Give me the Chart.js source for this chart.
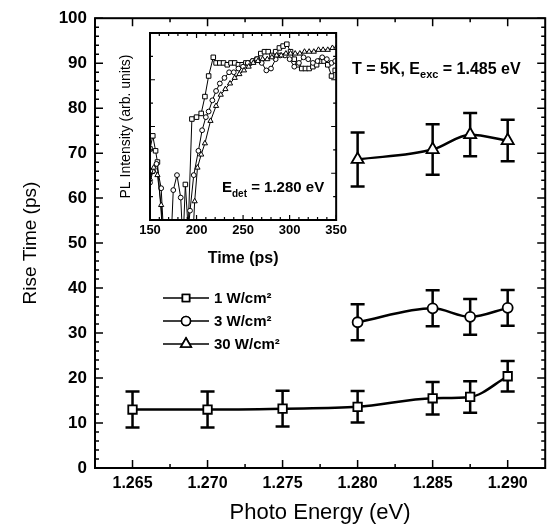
<!DOCTYPE html>
<html>
<head>
<meta charset="utf-8">
<script src="https://cdn.jsdelivr.net/npm/chart.js@4.4.0/dist/chart.umd.min.js"></script>
<style>
  html, body { margin: 0; padding: 0; background: #fff; }
  #wrap { position: relative; width: 554px; height: 529px; }
  #mainChart { position: absolute; left: 0; top: 0; }
  #insetChart { position: absolute; left: 108px; top: 25px; }
</style>
</head>
<body>
<div id="wrap">
  <canvas id="mainChart" width="554" height="529"></canvas>
  <canvas id="insetChart" width="242" height="250"></canvas>
</div>
<script>
// main plot: rise time vs photon energy
var energy1 = [1.265, 1.270, 1.275, 1.280, 1.285, 1.2875, 1.290];
var rise1   = [13.0, 13.0, 13.2, 13.6, 15.5, 15.8, 20.4];
var err1    = [4.0, 4.0, 4.0, 3.5, 3.6, 3.5, 3.4];

var energy3 = [1.280, 1.285, 1.2875, 1.290];
var rise3   = [32.4, 35.5, 33.6, 35.6];
var err3    = [4.0, 4.0, 4.0, 4.0];

var energy30 = [1.280, 1.285, 1.2875, 1.290];
var rise30   = [68.6, 70.8, 74.1, 72.8];
var err30    = [6.0, 5.6, 4.8, 4.6];

var xTickValues = [1.265, 1.270, 1.275, 1.280, 1.285, 1.290];
var legendLabels = ['1 W/cm²', '3 W/cm²', '30 W/cm²'];

// inset: PL transients (arb. units)
var insetTimeSq = [150, 153, 156, 158, 167, 184, 188, 191, 195, 200, 205, 209, 213, 218, 221, 225, 229, 233, 237, 241, 245, 249, 253, 257, 261, 265, 269, 273, 277, 281, 285, 289, 293, 297, 301, 305, 309, 313, 317, 321, 325, 329, 333, 337, 341, 345, 349];
var insetPLSq   = [38, 45, 37, 31, -30, -30, 19, -5, 54, 55, 57, 66, 77, 87, 84, 84, 84, 83, 84, 84, 83, 83, 84, 84, 85, 86, 89, 90, 90, 88, 90, 92, 93, 94, 90, 86, 83, 81, 81, 81, 82, 83, 85, 85, 83, 77, 80];

var insetTimeCi = [150, 153, 157, 162, 167, 171, 175, 179, 183, 187, 193, 197, 202, 206, 210, 213, 217, 221, 225, 230, 235, 240, 245, 250, 255, 260, 265, 270, 275, 280, 285, 290, 295, 300, 305, 310, 315, 320, 325, 330, 335, 340, 345, 349];
var insetPLCi   = [20, 26, 30, 17, -30, -30, 16, 24, 12, -30, 5, 24, 37, 48, 55, 58, 64, 69, 73, 76, 79, 79, 81, 82, 84, 85, 86, 84, 80, 81, 86, 88, 88, 86, 82, 84, 87, 86, 84, 85, 87, 86, 84, 85];

var insetTimeTr = [150, 154, 158, 162, 166, 194, 198, 201, 205, 209, 215, 221, 226, 231, 236, 241, 246, 251, 256, 261, 266, 271, 276, 281, 286, 291, 296, 301, 306, 311, 316, 321, 326, 331, 336, 341, 346, 350];
var insetPLTr   = [22, 28, 24, 8, -30, -30, 10, 28, 35, 41, 53, 61, 67, 70, 73, 76, 78, 80, 82, 84, 85, 86, 86, 87, 88, 88, 89, 89, 89, 89, 90, 90, 90, 91, 91, 91, 92, 92];

var FONT = "'Liberation Sans', Arial, sans-serif";
Chart.defaults.font.family = FONT;
Chart.defaults.color = '#000';

function toPoints(xs, ys) {
    return xs.map(function(x, i) { return { x: x, y: ys[i] }; });
}

// text with a subscript part
function drawParts(ctx, parts, x, y) {
    ctx.textBaseline = 'alphabetic';
    ctx.textAlign = 'left';
    parts.forEach(function(p) {
        ctx.font = p.font;
        ctx.fillText(p.text, x, y + (p.dy || 0));
        x += ctx.measureText(p.text).width;
    });
}

// frame around plot area with inward ticks on all four sides
function drawFrame(chart, cfg) {
    var ctx = chart.ctx, a = chart.chartArea;
    var xs = chart.scales.x, ys = chart.scales.y;
    ctx.save();
    ctx.strokeStyle = '#000';
    ctx.lineWidth = cfg.frameWidth;
    ctx.strokeRect(a.left, a.top, a.right - a.left, a.bottom - a.top);
    ctx.lineWidth = cfg.tickWidth;
    ctx.beginPath();
    for (var i = 0; i <= cfg.xCount; i++) {
        var px = xs.getPixelForValue(cfg.xStart + i * cfg.xStep);
        var len = (i % cfg.xMajorEvery === 0) ? cfg.majorLen : cfg.minorLen;
        ctx.moveTo(px, a.bottom); ctx.lineTo(px, a.bottom - len);
        ctx.moveTo(px, a.top); ctx.lineTo(px, a.top + len);
    }
    for (var j = 0; j <= cfg.yCount; j++) {
        var py = ys.getPixelForValue(cfg.yStart + j * cfg.yStep);
        var ylen = (j % cfg.yMajorEvery === 0) ? cfg.majorLen : cfg.minorLen;
        ctx.moveTo(a.left, py); ctx.lineTo(a.left + ylen, py);
        ctx.moveTo(a.right, py); ctx.lineTo(a.right - ylen, py);
    }
    ctx.stroke();
    ctx.restore();
}

var errorBarPlugin = {
    id: 'errorBars',
    beforeDatasetsDraw: function(chart) {
        var ctx = chart.ctx, ys = chart.scales.y;
        ctx.save();
        ctx.strokeStyle = '#000';
        ctx.lineWidth = 2.5;
        chart.data.datasets.forEach(function(ds, di) {
            if (!ds.errors) return;
            var meta = chart.getDatasetMeta(di);
            meta.data.forEach(function(pt, i) {
                var val = ds.data[i].y, e = ds.errors[i];
                var top = ys.getPixelForValue(val + e);
                var bot = ys.getPixelForValue(val - e);
                ctx.beginPath();
                ctx.moveTo(pt.x, top); ctx.lineTo(pt.x, bot);
                ctx.moveTo(pt.x - 7, top); ctx.lineTo(pt.x + 7, top);
                ctx.moveTo(pt.x - 7, bot); ctx.lineTo(pt.x + 7, bot);
                ctx.stroke();
            });
        });
        ctx.restore();
    }
};

var mainDecor = {
    id: 'mainDecor',
    afterDraw: function(chart) {
        drawFrame(chart, {
            frameWidth: 2, tickWidth: 1.5, majorLen: 8, minorLen: 4,
            xStart: 1.265, xStep: 0.0025, xCount: 10, xMajorEvery: 2,
            yStart: 0, yStep: 2, yCount: 50, yMajorEvery: 5
        });
        var ctx = chart.ctx;
        ctx.save();
        ctx.fillStyle = '#000';
        drawParts(ctx, [
            { text: 'T = 5K, E', font: 'bold 16px ' + FONT },
            { text: 'exc', font: 'bold 11px ' + FONT, dy: 4 },
            { text: ' = 1.485 eV', font: 'bold 16px ' + FONT }
        ], 352, 74);

        // legend
        var styles = ['rect', 'circle', 'triangle'];
        var radii = [5, 4.5, 6];
        legendLabels.forEach(function(lbl, i) {
            var y = 298 + 23 * i;
            ctx.strokeStyle = '#000';
            ctx.lineWidth = 1.6;
            ctx.beginPath();
            ctx.moveTo(163, y); ctx.lineTo(209, y);
            ctx.stroke();
            ctx.fillStyle = '#fff';
            Chart.helpers.drawPoint(ctx, { pointStyle: styles[i], radius: radii[i], borderWidth: 1.5 }, 186, y);
            ctx.fill();
            ctx.stroke();
            ctx.fillStyle = '#000';
            ctx.font = 'bold 15px ' + FONT;
            ctx.textBaseline = 'middle';
            ctx.textAlign = 'left';
            ctx.fillText(lbl, 214, y + 1);
        });
        ctx.restore();
    }
};

function mainSet(xs, ys, errs, style, radius) {
    return {
        data: toPoints(xs, ys),
        errors: errs,
        borderColor: '#000',
        borderWidth: 2.5,
        cubicInterpolationMode: 'monotone',
        pointStyle: style,
        pointRadius: radius,
        pointBorderWidth: 1.8,
        pointBackgroundColor: '#fff',
        pointBorderColor: '#000'
    };
}

new Chart(document.getElementById('mainChart'), {
    type: 'line',
    data: {
        datasets: [
            mainSet(energy1, rise1, err1, 'rect', 6),
            mainSet(energy3, rise3, err3, 'circle', 5),
            mainSet(energy30, rise30, err30, 'triangle', 7)
        ]
    },
    options: {
        responsive: false,
        animation: false,
        layout: { padding: { top: 13, right: 6, left: 0, bottom: 0 } },
        plugins: { legend: { display: false }, tooltip: { enabled: false } },
        scales: {
            x: {
                type: 'linear', min: 1.2625, max: 1.2925,
                grid: { display: false, drawTicks: false },
                border: { display: false },
                afterBuildTicks: function(s) { s.ticks = xTickValues.map(function(v) { return { value: v }; }); },
                afterFit: function(s) { s.height = 61; },
                ticks: {
                    autoSkip: false, maxRotation: 0, padding: 6,
                    font: { size: 16, weight: 'bold' },
                    callback: function(v) { return Number(v).toFixed(3); }
                },
                title: { display: true, text: 'Photo Energy (eV)', font: { size: 22 }, padding: { top: 0, bottom: 3 } }
            },
            y: {
                min: 0, max: 100,
                grid: { display: false, drawTicks: false },
                border: { display: false },
                afterFit: function(s) { s.width = 95; },
                ticks: { stepSize: 10, padding: 8, font: { size: 17, weight: 'bold' } },
                title: { display: true, text: 'Rise Time (ps)', font: { size: 19 }, padding: { top: 19, bottom: 0 } }
            }
        }
    },
    plugins: [errorBarPlugin, mainDecor]
});

// inset chart
var insetDecor = {
    id: 'insetDecor',
    afterDraw: function(chart) {
        drawFrame(chart, {
            frameWidth: 2, tickWidth: 1.2, majorLen: 5, minorLen: 3,
            xStart: 150, xStep: 10, xCount: 20, xMajorEvery: 5,
            yStart: 0, yStep: 12.5, yCount: 8, yMajorEvery: 2
        });
        var ctx = chart.ctx;
        ctx.save();
        ctx.fillStyle = '#000';
        drawParts(ctx, [
            { text: 'E', font: 'bold 15px ' + FONT },
            { text: 'det', font: 'bold 10px ' + FONT, dy: 5 },
            { text: ' = 1.280 eV', font: 'bold 15px ' + FONT }
        ], 114, 167);
        ctx.restore();
    }
};

function insetSet(xs, ys, style, radius) {
    return {
        data: toPoints(xs, ys),
        borderColor: '#000',
        borderWidth: 1,
        tension: 0,
        clip: 0,
        pointStyle: style,
        pointRadius: radius,
        pointBorderWidth: 1,
        pointBackgroundColor: '#fff',
        pointBorderColor: '#000'
    };
}

new Chart(document.getElementById('insetChart'), {
    type: 'line',
    data: {
        datasets: [
            insetSet(insetTimeTr, insetPLTr, 'triangle', 3),
            insetSet(insetTimeCi, insetPLCi, 'circle', 2.4),
            insetSet(insetTimeSq, insetPLSq, 'rect', 3.2)
        ]
    },
    options: {
        responsive: false,
        animation: false,
        layout: { padding: { top: 8, right: 10, left: 0, bottom: 0 } },
        plugins: { legend: { display: false }, tooltip: { enabled: false } },
        scales: {
            x: {
                type: 'linear', min: 150, max: 350,
                grid: { display: false, drawTicks: false },
                border: { display: false },
                afterFit: function(s) { s.height = 55; },
                ticks: { stepSize: 50, padding: 3, maxRotation: 0, font: { size: 13, weight: 'bold' } },
                title: { display: true, text: 'Time (ps)', font: { size: 16, weight: 'bold' }, padding: { top: 0, bottom: 7 } }
            },
            y: {
                min: 0, max: 100,
                grid: { display: false, drawTicks: false },
                border: { display: false },
                afterFit: function(s) { s.width = 42; },
                ticks: { display: false },
                title: { display: true, text: 'PL Intensity (arb. units)', font: { size: 14 }, padding: { top: 10, bottom: 0 } }
            }
        }
    },
    plugins: [insetDecor]
});
</script>
</body>
</html>
